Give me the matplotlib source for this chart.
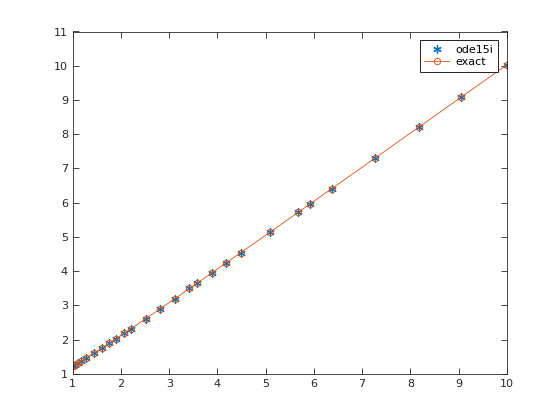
import matplotlib
matplotlib.use("Agg")
import matplotlib.pyplot as plt

# solution points
t = [1.0, 1.04, 1.1, 1.18, 1.28, 1.44, 1.61, 1.75, 1.90, 2.06, 2.20, 2.51, 2.80,
     3.11, 3.42, 3.57, 3.88, 4.17, 4.48, 5.08, 5.68, 5.91, 6.37, 7.26, 8.17,
     9.05, 10.0]
y_ode = [1.225, 1.258, 1.308, 1.376, 1.462, 1.604, 1.758, 1.887, 2.027, 2.178,
         2.311, 2.608, 2.888, 3.189, 3.492, 3.639, 3.944, 4.230, 4.535, 5.129,
         5.724, 5.952, 6.409, 7.294, 8.200, 9.078, 10.025]
y_exact = [1.225, 1.258, 1.308, 1.376, 1.462, 1.604, 1.758, 1.887, 2.027, 2.178,
           2.311, 2.608, 2.888, 3.189, 3.492, 3.639, 3.944, 4.230, 4.535, 5.129,
           5.724, 5.952, 6.409, 7.294, 8.200, 9.078, 10.025]

blue = (0, 0.447, 0.741)
orange = (0.85, 0.325, 0.098)

fig = plt.figure(figsize=(5.6, 4.2), dpi=100)
ax = fig.add_axes([0.13, 0.11, 0.775, 0.815])

# matlab style asterisk
ax.plot(t, y_ode, linestyle='none', marker=(6, 2, 0), color=blue, markersize=6,
        markeredgewidth=0.9, label='ode15i')
ax.plot(t, y_exact, '-o', color=orange, linewidth=0.6, markersize=4.5,
        markerfacecolor='none', markeredgewidth=0.7, label='exact')

ax.set_xlim(1, 10)
ax.set_ylim(1, 11)
ax.set_xticks(range(1, 11))
ax.set_yticks(range(1, 12))
ax.tick_params(direction='in', top=True, right=True, labelsize=8,
               colors=(0.15, 0.15, 0.15), length=4, width=0.6)
for s in ax.spines.values():
    s.set_color((0.15, 0.15, 0.15))
    s.set_linewidth(0.6)

leg = ax.legend(loc='upper right', fontsize=8, fancybox=False, framealpha=1,
                edgecolor='black', borderaxespad=0.8, handlelength=2.2,
                handletextpad=0.6, borderpad=0.4, labelspacing=0.2)
leg.get_frame().set_linewidth(0.6)

fig.savefig('out.png', dpi=100)
